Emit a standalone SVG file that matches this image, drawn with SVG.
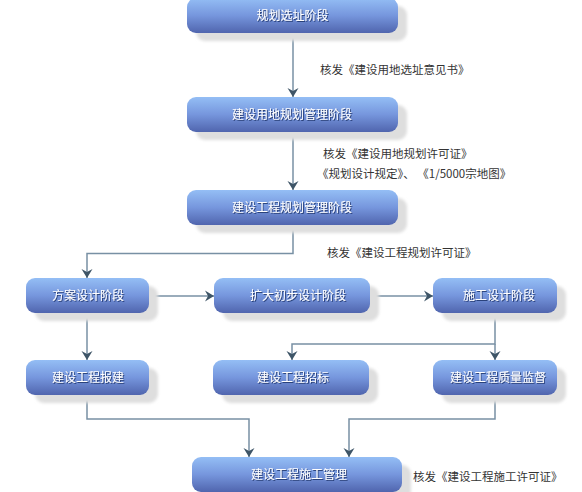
<svg xmlns="http://www.w3.org/2000/svg" width="582" height="492" viewBox="0 0 582 492">
<style>
.node-shadow{fill:#dedede;filter:url(#blur)}
.node-box{fill:url(#g);}
.node-text{font-family:"Noto Sans CJK SC","Liberation Sans",sans-serif;font-size:12px;fill:#ffffff;text-anchor:middle;filter:url(#ts)}
.label{font-family:"Noto Sans CJK SC","Liberation Sans",sans-serif;font-size:11.5px;fill:#333333}
.conn{fill:none;stroke:#7890a4;stroke-width:1.5;marker-end:url(#arr)}
</style>
<defs>
<linearGradient id="g" x1="0" y1="0" x2="0" y2="1">
<stop offset="0" stop-color="#94bef5"/>
<stop offset="0.5" stop-color="#7696dd"/>
<stop offset="1" stop-color="#5065ae"/>
</linearGradient>
<filter id="blur" x="-10%" y="-30%" width="120%" height="160%"><feGaussianBlur stdDeviation="1.5"/></filter>
<filter id="ts" x="-10%" y="-30%" width="120%" height="160%"><feDropShadow dx="1" dy="1" stdDeviation="0.4" flood-color="#1f2f66" flood-opacity="0.8"/></filter>
<marker id="arr" markerUnits="userSpaceOnUse" markerWidth="10" markerHeight="12" refX="9" refY="5.5" orient="auto" viewBox="0 0 10 11">
<path d="M0,0 L9,5.5 L0,11 L3,5.5 z" fill="#3e5567"/>
</marker>
</defs>
<rect width="582" height="492" fill="#ffffff"/>

<g id="connectors">
<path class="conn" d="M293,33 V97"/>
<path class="conn" d="M293,132 V190"/>
<path class="conn" d="M293,225 V253.5 H87 V278"/>
<path class="conn" d="M149,296 H214"/>
<path class="conn" d="M370,296 H433"/>
<path class="conn" d="M87,313 V360"/>
<path class="conn" d="M495,313 V344 H292 V360"/>
<path class="conn" d="M495,344 V360"/>
<path class="conn" d="M87,395 V419 H249 V457"/>
<path class="conn" d="M495,395 V419 H349 V457"/>
</g>

<g id="n1">
<rect class="node-shadow" x="196" y="6" width="211" height="35" rx="9"/>
<rect class="node-box" x="187" y="-2" width="211" height="35" rx="9"/>
<text class="node-text" x="292.5" y="20">规划选址阶段</text>
</g>
<g id="n2">
<rect class="node-shadow" x="196" y="105" width="211" height="35" rx="9"/>
<rect class="node-box" x="187" y="97" width="211" height="35" rx="9"/>
<text class="node-text" x="292" y="119">建设用地规划管理阶段</text>
</g>
<g id="n3">
<rect class="node-shadow" x="196" y="198" width="211" height="35" rx="9"/>
<rect class="node-box" x="187" y="190" width="211" height="35" rx="9"/>
<text class="node-text" x="292" y="212">建设工程规划管理阶段</text>
</g>
<g id="n4">
<rect class="node-shadow" x="35" y="286" width="123" height="35" rx="9"/>
<rect class="node-box" x="26" y="278" width="123" height="35" rx="9"/>
<text class="node-text" x="88" y="300">方案设计阶段</text>
</g>
<g id="n5">
<rect class="node-shadow" x="223" y="286" width="156" height="35" rx="9"/>
<rect class="node-box" x="214" y="278" width="156" height="35" rx="9"/>
<text class="node-text" x="298" y="300">扩大初步设计阶段</text>
</g>
<g id="n6">
<rect class="node-shadow" x="442" y="286" width="124" height="35" rx="9"/>
<rect class="node-box" x="433" y="278" width="124" height="35" rx="9"/>
<text class="node-text" x="499" y="300">施工设计阶段</text>
</g>
<g id="n7">
<rect class="node-shadow" x="35" y="368" width="123" height="35" rx="9"/>
<rect class="node-box" x="26" y="360" width="123" height="35" rx="9"/>
<text class="node-text" x="88" y="382">建设工程报建</text>
</g>
<g id="n8">
<rect class="node-shadow" x="222" y="368" width="156" height="35" rx="9"/>
<rect class="node-box" x="213" y="360" width="156" height="35" rx="9"/>
<text class="node-text" x="293" y="382">建设工程招标</text>
</g>
<g id="n9">
<rect class="node-shadow" x="442" y="368" width="124" height="35" rx="9"/>
<rect class="node-box" x="433" y="360" width="124" height="35" rx="9"/>
<text class="node-text" x="498" y="382">建设工程质量监督</text>
</g>
<g id="n10">
<rect class="node-shadow" x="201" y="465" width="210" height="35" rx="9"/>
<rect class="node-box" x="192" y="457" width="210" height="35" rx="9"/>
<text class="node-text" x="299" y="479">建设工程施工管理</text>
</g>

<g id="labels">
<text class="label" x="320" y="74">核发《建设用地选址意见书》</text>
<text class="label" x="323" y="158">核发《建设用地规划许可证》</text>
<text class="label" x="317" y="178" xml:space="preserve">《规划设计规定》、 《1/5000宗地图》</text>
<text class="label" x="327" y="257">核发《建设工程规划许可证》</text>
<text class="label" x="413" y="481">核发《建设工程施工许可证》</text>
</g>
</svg>
